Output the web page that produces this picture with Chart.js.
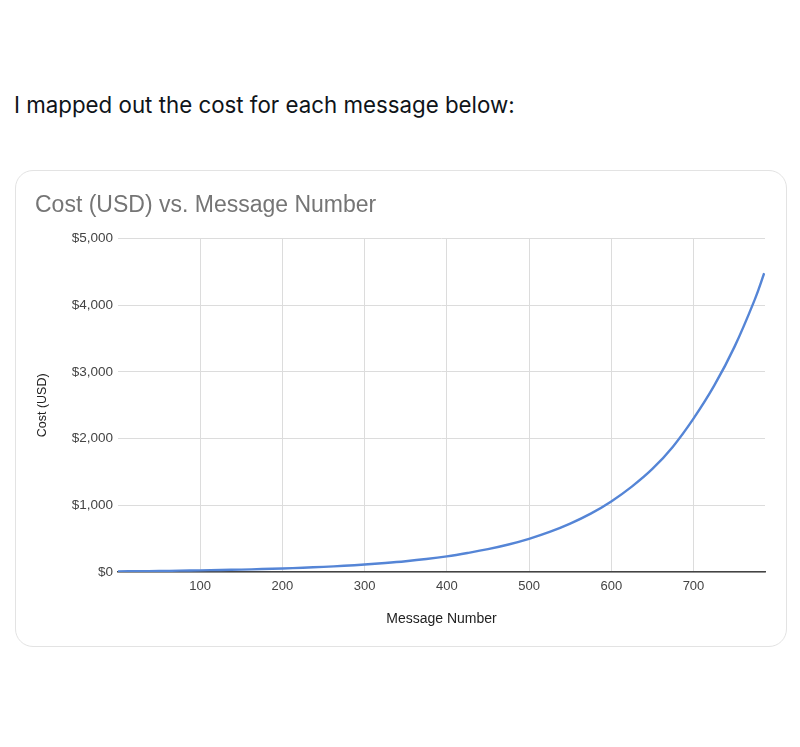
<!DOCTYPE html>
<html>
<head>
<meta charset="utf-8">
<script src="https://cdn.jsdelivr.net/npm/chart.js@4"></script>
<style>
  html, body { margin: 0; padding: 0; background: #fff; }
  body { width: 800px; height: 747px; position: relative; overflow: hidden; }
  #heading {
    position: absolute; left: 14px; top: 90px;
    font-family: "Inter", "Noto Sans", sans-serif; font-size: 22.3px;
    color: #0f1419; white-space: nowrap; line-height: 30px;
  }
  #card {
    position: absolute; left: 15px; top: 170px; width: 772px; height: 477px;
    box-sizing: border-box; border: 1px solid #e3e3e3; border-radius: 18px;
    overflow: hidden; background: #fff;
  }
  #chart { position: absolute; left: 0; top: 0; }
</style>
</head>
<body>
<div id="heading">I mapped out the cost for each message below:</div>
<div id="card"><canvas id="chart" width="770" height="475"></canvas></div>
<script>
// message number -> cost (USD)
const messages = [0, 25, 50, 75, 100, 125, 150, 175, 200, 225, 250, 275, 300, 325, 350, 375, 400,
    425, 450, 475, 500, 525, 550, 575, 600, 625, 650, 675, 700, 725, 750, 775, 786];
const costs = [10, 12, 15, 20, 25, 30, 36, 44, 53, 64, 77, 93, 112, 135, 162, 195, 235,
    285, 342, 412, 497, 600, 725, 875, 1058, 1280, 1545, 1880, 2300, 2790, 3380, 4100, 4480];
const xTicks = [100, 200, 300, 400, 500, 600, 700];
const yTicks = [0, 1000, 2000, 3000, 4000, 5000];

const FONT = "'Liberation Sans', Arial, sans-serif";

const ctx = document.getElementById('chart').getContext('2d');
new Chart(ctx, {
    type: 'line',
    data: {
        datasets: [{
            label: 'Cost (USD)',
            data: messages.map((m, i) => ({ x: m, y: costs[i] })),
            borderColor: '#5585d6',
            borderWidth: 2.4,
            pointRadius: 0,
            tension: 0.4,
            fill: false
        }]
    },
    options: {
        responsive: false,
        animation: false,
        layout: { padding: { left: 19, right: 21, top: 0, bottom: 17 } },
        plugins: {
            legend: { display: false },
            tooltip: { enabled: false },
            title: {
                display: true,
                text: 'Cost (USD) vs. Message Number',
                align: 'start',
                color: '#757575',
                font: { family: FONT, size: 23, weight: 'normal' },
                padding: { top: 21, bottom: 19 }
            }
        },
        scales: {
            x: {
                type: 'linear',
                min: 0,
                max: 787,
                afterBuildTicks: s => { s.ticks = xTicks.map(v => ({ value: v })); },
                afterFit: s => { s.height = 57; },
                grid: { color: '#dcdcdc', lineWidth: 1, drawTicks: false },
                border: { display: true, color: '#444', width: 1.5 },
                ticks: { color: '#444', font: { family: FONT, size: 13 }, padding: 7, maxRotation: 0 },
                title: {
                    display: true, text: 'Message Number', color: '#222',
                    font: { family: FONT, size: 14 }, padding: { top: 0, bottom: 1 }
                }
            },
            y: {
                min: 0,
                max: 5000,
                afterBuildTicks: s => { s.ticks = yTicks.map(v => ({ value: v })); },
                afterFit: s => { s.width = 83; },
                grid: { color: '#dcdcdc', lineWidth: 1, drawTicks: false },
                border: { display: false },
                ticks: {
                    color: '#444', font: { family: FONT, size: 13.5 }, padding: 5,
                    callback: v => '$' + v.toLocaleString('en-US')
                },
                title: {
                    display: true, text: 'Cost (USD)', color: '#222',
                    font: { family: FONT, size: 12.5 }, padding: { top: 0, bottom: 0 }
                }
            }
        }
    }
});
</script>
</body>
</html>
